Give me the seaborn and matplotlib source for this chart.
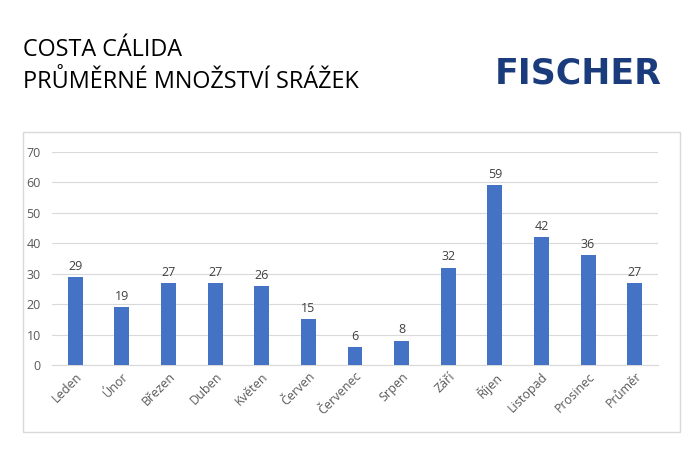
import matplotlib
matplotlib.use("Agg")
import matplotlib.pyplot as plt
import seaborn as sns
import pandas as pd
from matplotlib.patches import Rectangle

months = ["Leden", "Únor", "Březen", "Duben", "Květen", "Červen", "Červenec",
          "Srpen", "Září", "Říjen", "Listopad", "Prosinec", "Průměr"]
rain = [29, 19, 27, 27, 26, 15, 6, 8, 32, 59, 42, 36, 27]
yticks = [0, 10, 20, 30, 40, 50, 60, 70]
title1 = "COSTA CÁLIDA"
title2 = "PRŮMĚRNÉ MNOŽSTVÍ SRÁŽEK"
logo = "FISCHER"

sns.set_style("white")
plt.rcParams['font.family'] = ['Open Sans', 'DejaVu Sans']

df = pd.DataFrame({"month": months, "rain": rain})

fig = plt.figure(figsize=(7, 4.5), dpi=100)
fig.patch.set_facecolor("white")

# chart frame
fig.add_artist(Rectangle((23/700, 1-432/450), (680-23)/700, (432-132)/450,
                         transform=fig.transFigure, fill=False,
                         edgecolor="#d9d9d9", linewidth=1))

ax = fig.add_axes([52/700, 85/450, 606/700, 213/450])
sns.barplot(data=df, x="month", y="rain", color="#4472C4", width=0.32,
            saturation=1, ax=ax, zorder=3, linewidth=0)
ax.set_ylim(0, 70)
ax.set_yticks(yticks)
ax.set_xlim(-0.5, len(months) - 0.5)
ax.grid(axis="y", color="#d9d9d9", linewidth=0.8, zorder=0)
for s in ["top", "right", "left"]:
    ax.spines[s].set_visible(False)
ax.spines["bottom"].set_color("#d9d9d9")
ax.set_xlabel("")
ax.set_ylabel("")
ax.tick_params(axis="both", length=0, colors="#595959", labelsize=9)
ax.tick_params(axis="y", pad=8)
for lbl in ax.get_xticklabels():
    lbl.set_rotation(45)
    lbl.set_ha("right")
    lbl.set_rotation_mode("anchor")
for c in ax.containers:
    ax.bar_label(c, padding=3, color="#404040", fontsize=9)

fig.text(23/700, 1-50/450, title1, fontsize=16.8, va="center", ha="left", color="#000000")
fig.text(23/700, 1-82/450, title2, fontsize=16.8, va="center", ha="left", color="#000000")
fig.text(662/700, 1-73/450, logo, fontsize=25, fontweight="bold", va="center",
         ha="right", color="#1b3c7c", family="DejaVu Sans")

fig.savefig("out.png", dpi=100)
